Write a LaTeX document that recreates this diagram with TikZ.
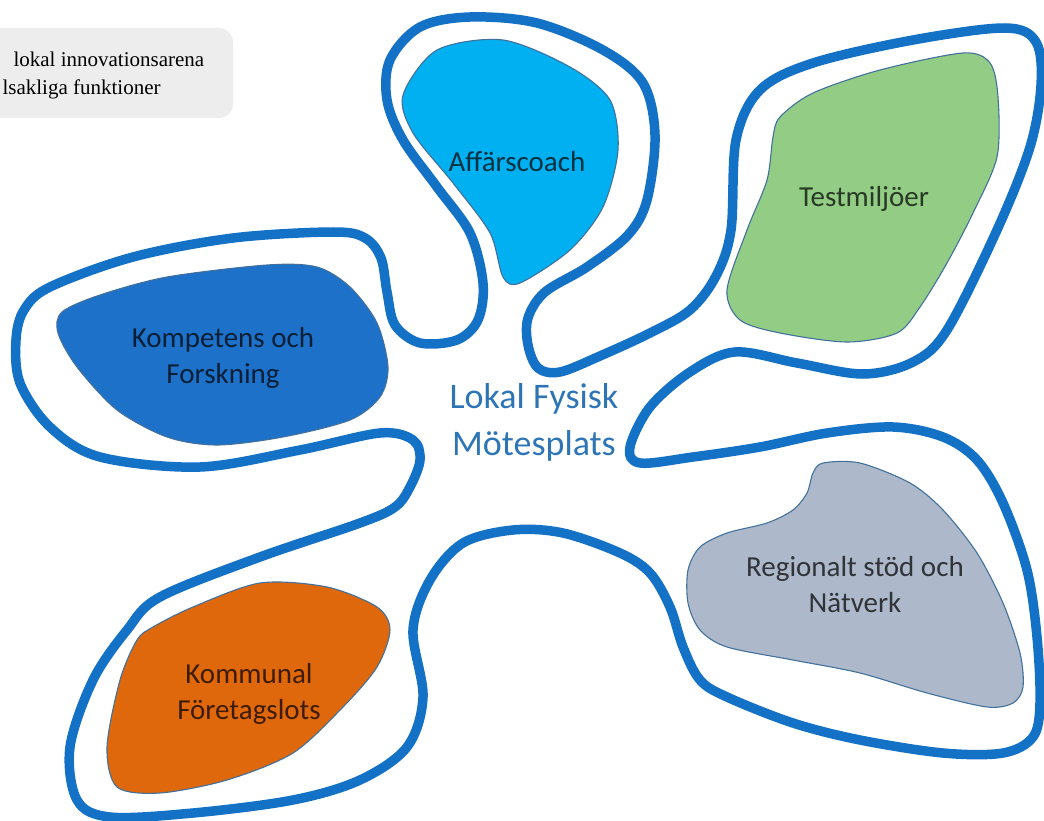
\documentclass[tikz,border=0pt]{standalone}
\usepackage{fontspec}
\setmainfont{Carlito}
\newfontfamily\notefont{Liberation Serif}

\definecolor{outlineblue}{RGB}{20,114,198}
\definecolor{centreblue}{RGB}{46,117,182}
\definecolor{blobedge}{RGB}{65,113,156}
\definecolor{affcol}{RGB}{0,176,240}
\definecolor{testcol}{RGB}{147,205,133}
\definecolor{kompcol}{RGB}{30,113,200}
\definecolor{kommcol}{RGB}{224,104,12}
\definecolor{regcol}{RGB}{173,185,202}
\definecolor{notegray}{RGB}{237,237,237}

\begin{document}
\begin{tikzpicture}[x=1pt,y=-1pt,
		outline/.style={draw=outlineblue, line width=9.5pt, line join=round},
		blob/.style={draw=blobedge, line width=1.1pt, fill=#1},
		blobtext/.style={align=center, font=\fontsize{29}{36}\selectfont, text=black, text opacity=0.72},
		notetext/.style={anchor=base west, font=\notefont\fontsize{21}{25}\selectfont}]
			% Page frame
			\useasboundingbox (0,0) rectangle (1044,821);
			\clip (0,0) rectangle (1044,821);

			% Note box, cut at the left edge
			\fill[notegray, rounded corners=14pt] (-30,28) rectangle (233,118);
			\node[notetext] (note1) at (10,67) {lokal innovationsarena};
			\node[notetext] (note2) at (-1,95) {lsakliga funktioner};

			% Draw the big outline
			\draw[outline] plot[smooth cycle, tension=0.55] coordinates {
				(420,27) (470,17) (537,23) (603,50) (643,83) (655,135) (647,200)
				(628,235) (587,267) (545,292) (528,318) (528,345) (538,368) (560,372)
				(600,356) (650,333) (690,310) (716,276) (731,230) (736,140) (760,90)
				(813,63) (913,40) (1005,28) (1036,42) (1041,85) (1030,147) (997,230)
				(947,330) (913,362) (863,374) (797,363) (735,352) (690,372) (650,407)
				(630,447) (640,463) (693,457) (760,447) (827,433) (893,427) (943,437)
				(977,460) (1003,503) (1027,570) (1037,637) (1040,703) (1033,737)
				(1003,753) (943,753) (860,740) (793,723) (727,697) (700,680) (683,647)
				(670,607) (650,573) (620,553) (563,533) (513,530) (463,543) (430,580)
				(413,630) (423,697) (407,747) (360,780) (293,800) (193,813) (110,817)
				(77,800) (70,747) (93,680) (127,630) (160,597) (260,557) (360,523)
				(395,507) (410,487) (420,460) (413,440) (380,433) (300,450) (200,467)
				(100,457) (50,427) (20,383) (16,340) (24,310) (50,287) (133,257)
				(233,238) (333,232) (365,238) (381,258) (387,292) (395,325) (420,343)
				(457,340) (478,320) (483,283) (470,233) (437,187) (403,140) (387,100)
				(390,60)};

			% Draw the blobs
			\draw[blob=affcol] plot[smooth cycle] coordinates {
				(403,95) (437,50) (503,40) (570,67) (610,100) (618,150) (603,207)
				(570,250) (520,283) (503,277) (490,233) (453,183) (413,133)};
			\draw[blob=testcol] plot[smooth cycle] coordinates {
				(780,117) (813,93) (880,70) (963,53) (990,63) (998,97) (997,157)
				(973,213) (947,263) (920,307) (897,333) (847,342) (780,333) (740,320)
				(727,290) (747,230) (767,180) (773,137)};
			\draw[blob=kompcol] plot[smooth cycle] coordinates {
				(62,312) (100,295) (167,277) (267,265) (317,267) (350,287) (377,323)
				(388,367) (380,397) (350,420) (283,437) (217,445) (167,437) (117,410)
				(77,367) (58,333)};
			\draw[blob=kommcol] plot[smooth cycle] coordinates {
				(153,627) (193,607) (260,583) (327,587) (377,607) (390,630) (377,667)
				(343,707) (293,753) (227,780) (160,793) (117,787) (107,747) (120,680)
				(137,640)};
			\draw[blob=regcol] plot[smooth cycle] coordinates {
				(823,463) (860,463) (910,483) (943,510) (977,553) (1003,603)
				(1020,653) (1023,687) (1013,703) (987,707) (927,693) (860,673)
				(793,660) (727,647) (700,630) (688,603) (688,570) (700,547) (727,533)
				(767,523) (793,510) (807,493) (813,473)};

			% Labels (base = last line)
			\node[blobtext, anchor=base] (affar) at (517,172) {Affärscoach};
			\node[blobtext, anchor=base] (test) at (864,207) {Testmiljöer};
			\node[blobtext, anchor=base] (komp) at (223,383) {Kompetens och\\Forskning};
			\node[blobtext, anchor=base] (komm) at (249,719) {Kommunal\\Företagslots};
			\node[blobtext, anchor=base] (reg) at (855,612) {Regionalt stöd och\\Nätverk};
			\node[anchor=base, align=center, text=centreblue,
				font=\fontsize{36}{47}\selectfont] (centre) at (534,455) {Lokal Fysisk\\Mötesplats};
		\end{tikzpicture}
\end{document}
